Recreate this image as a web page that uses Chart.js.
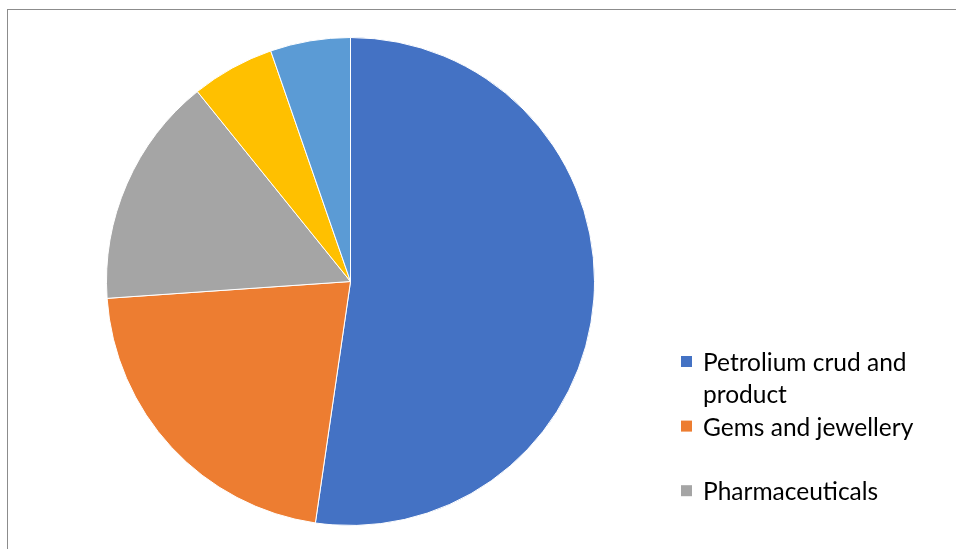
<!doctype html>
<html lang="en">
  <head>
    <meta charset="utf-8">
    <title>Export share pie</title>
    <style>
      body { margin: 0; background: #fff; }
      #frame { position: absolute; left: 7px; top: 9px; width: 1100px; height: 700px;
               border-left: 1px solid #8c8c8c; border-top: 1px solid #8c8c8c; }
      #wrap { position: absolute; left: 0; top: 0; width: 956px; height: 549px; }
    </style>
  </head>
  <body>
    <div id="frame"></div>
    <div id="wrap"><canvas id="chart"></canvas></div>
  </body>
</html>
<script src="https://cdn.jsdelivr.net/npm/chart.js"></script>
<script>
const labels = ['Petrolium crud and product', 'Gems and jewellery', 'Pharmaceuticals', 'Engineering goods', 'Others'];
const shares = [52.3, 21.6, 15.3, 5.5, 5.3];
const colors = ['#4472C4', '#ED7D31', '#A5A5A5', '#FFC000', '#5B9BD5'];
// legend only lists the first three (as in the original), wrapped lines per item
const legendLines = [['Petrolium crud and', 'product'], ['Gems and jewellery', ''], ['Pharmaceuticals']];

const sideLegend = {
    id: 'sideLegend',
    afterDraw(chart) {
        const { ctx } = chart;
        ctx.save();
        ctx.font = '24.5px Lato, sans-serif';
        ctx.textBaseline = 'middle';
        let y = 362;
        legendLines.forEach((lines, i) => {
            ctx.fillStyle = chart.data.datasets[0].backgroundColor[i];
            ctx.fillRect(681, y - 6, 11, 11);
            ctx.fillStyle = '#000';
            lines.forEach(txt => {
                ctx.fillText(txt, 703, y + 1);
                y += 32.3;
            });
        });
        ctx.restore();
    }
};

new Chart(document.querySelector('#chart'), {
    type: 'pie',
    data: {
        labels: labels,
        datasets: [{
            data: shares,
            backgroundColor: colors,
            borderColor: '#fff',
            borderWidth: 1
        }]
    },
    options: {
        responsive: true,
        maintainAspectRatio: false,
        animation: false,
        layout: { padding: { left: 106, right: 361, top: 37, bottom: 23 } },
        plugins: {
            legend: { display: false },
            tooltip: { enabled: false }
        }
    },
    plugins: [sideLegend]
});
</script>
